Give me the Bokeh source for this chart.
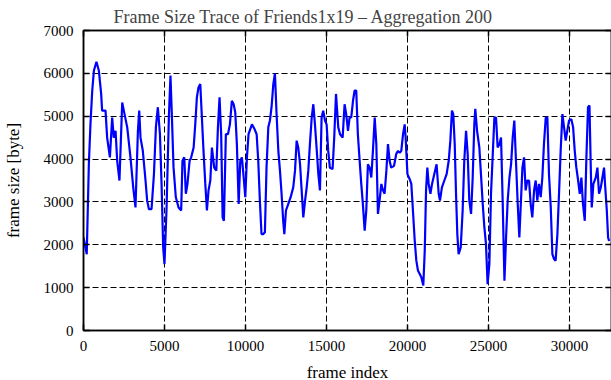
from bokeh.plotting import figure
from bokeh.models import Range1d, LinearAxis, FixedTicker, CustomJSTickFormatter
from bokeh.embed import file_html
from bokeh.resources import INLINE

frame_index = [0, 200, 330, 430, 540, 640, 800, 950, 1090, 1150, 1360, 1460, 1630, 1770, 1870, 1980,
               2080, 2220, 2390, 2490, 2700, 2900, 3070, 3210, 3360, 3440, 3520, 3660, 3830, 3930,
               4040, 4200, 4350, 4470, 4590, 4720, 4820, 4920, 5000, 5130, 5270, 5370,
               5460, 5560, 5700, 5870, 6030, 6110, 6220, 6320, 6420, 6550, 6650, 6800, 6900, 7000,
               7100, 7210, 7310, 7410, 7520, 7620, 7720, 7830, 7930, 8070, 8200, 8300, 8400, 8500,
               8590, 8670, 8790, 8920, 9040, 9160, 9270, 9370, 9470, 9580, 9680, 9780, 9890, 9990,
               10090, 10190, 10400, 10560,
               10690, 10790, 10890, 10990, 11100, 11200, 11300, 11410, 11510, 11610, 11720, 11820,
               11920, 12030, 12130, 12230, 12330, 12400, 12500, 12640, 12790, 12950, 13060, 13160,
               13260, 13370, 13470, 13570, 13680, 13780, 13880, 13980, 14090, 14190, 14290, 14390,
               14500, 14600, 14700, 14800, 14910, 15010, 15110, 15210, 15380, 15480, 15590, 15730,
               15840, 16000,
               16120, 16220, 16330, 16430, 16530, 16640, 16740, 16840, 16940, 17050, 17150, 17250,
               17360, 17460, 17560, 17670, 17770, 17870, 17980, 18080, 18180, 18280, 18390, 18490,
               18590, 18700, 18800, 18900, 19000, 19170, 19310, 19420, 19520, 19620, 19730, 19830,
               19890, 20000, 20140, 20240, 20340, 20450, 20550, 20650, 20760, 20860, 20980, 21070,
               21150, 21230, 21310, 21420, 21520,
               21660, 21800, 21930, 22010, 22130, 22280, 22420, 22550, 22650, 22750, 22830, 22920,
               23000, 23080, 23160, 23290, 23410, 23510, 23620, 23720, 23820, 23930, 24030, 24130,
               24190, 24300, 24440, 24540, 24650, 24750, 24850, 24950, 25060, 25160, 25260, 25370,
               25470, 25570, 25680, 25780, 25880, 25990, 26090, 26190, 26300, 26400, 26500, 26600,
               26710, 26810, 26910,
               27100, 27200, 27300, 27400, 27510, 27610, 27710, 27820, 27920, 28020, 28120, 28230,
               28330, 28430, 28540, 28640, 28740, 28850, 28950, 29050, 29150, 29260, 29360, 29460,
               29570, 29670, 29770, 29870, 29980, 30120, 30230, 30330, 30430, 30540, 30640, 30740,
               30840, 30950, 31050, 31150, 31240, 31320, 31380, 31480, 31630, 31730, 31830, 31940,
               32040, 32140, 32200, 32310, 32390, 32450]

frame_size = [2170, 1780, 3880, 4820, 5600, 6060, 6270, 6060, 5520, 5130, 5130, 4500, 4040, 4970, 4500, 4660,
              3960, 3500, 5320, 5130, 4740, 4040, 3340, 2870, 4660, 5130, 4500, 4200, 3500, 3030,
              2830, 2830, 3650, 4740, 5210, 4580, 3420, 1940, 1550, 2870, 4970, 5950,
              4970, 3800, 3110, 2870, 2800, 3960, 4040, 3190, 3420, 3960, 4040, 4270, 4810, 5440,
              5670, 5750, 4970, 4190, 3420, 2800, 3270, 3500, 4270, 3800, 3730, 4740, 5440, 4580,
              2640, 2560, 4580, 4580, 4810, 5360, 5280, 5090, 4350, 2950, 3960, 4040, 3570, 3110,
              4040, 4580, 4810, 4700,
              4580, 3960, 3030, 2250, 2250, 2290, 3800, 4740, 4900, 5210, 5750, 6000,
              5050, 4190, 3730, 3190, 2560, 2250, 2800, 2950, 3110, 3340, 3730, 4430,
              4270, 3880, 3270, 2640, 3030, 3340, 3730, 4350, 4970, 5280, 4810, 4270,
              3650, 3270, 4970, 5130, 4900, 4810, 4190, 3800, 3770, 4500, 5520, 4740,
              4580, 4500,
              5280, 5050, 4660, 4970, 4970, 5360, 5600, 5600, 4580, 3960, 3420, 2950,
              2330, 2800, 3880, 3800, 3570, 4190, 4970, 4350, 2720, 3030, 3420, 3270,
              3190, 3730, 4350, 3960, 3800, 3840, 4120, 4190, 4150, 4190, 4580, 4810,
              4500, 3650, 3530, 3420, 2800, 2100, 1630, 1400, 1320, 1240, 1050, 1870,
              3270, 3800, 3420, 3190, 3420,
              3650, 3880, 3190, 3030, 3340, 3500, 3650, 3960, 4430, 5130, 5050, 4350,
              3190, 2250, 1780, 1940, 2800, 3960, 4660, 4120, 3030, 2720, 3570, 4810,
              5170, 4660, 4270, 3650, 2950, 2410, 2020, 1080, 1550, 3190, 4040, 4970,
              4970, 4270, 4350, 4500, 3030, 1160, 2170, 3030, 3570, 3880, 4500, 4900,
              3880, 2950, 2170,
              3800, 4040, 3270, 3500, 3500, 2950, 2640, 3270, 3500, 3030, 3420, 3110,
              3570, 4350, 4970, 4970, 3650, 2870, 1780, 1670, 1630, 2250, 3190, 4190,
              5050, 4740, 4430, 4660, 4900, 4930, 4740, 4190, 3800, 3500, 3190, 3570,
              2950, 2560, 4040, 5210, 5250, 3800, 2870, 3420, 3570, 3800, 3190, 3340,
              3570, 3800, 3420, 2800, 2170, 2090]

x_ticks = [0, 5000, 10000, 15000, 20000, 25000, 30000]
y_ticks = [0, 1000, 2000, 3000, 4000, 5000, 6000, 7000]

FONT = "Liberation Serif"

p = figure(frame_width=528, frame_height=300, output_backend="svg", toolbar_location=None,
           x_range=Range1d(0, 32600), y_range=Range1d(0, 7000),
           min_border_left=81, min_border_right=2, min_border_top=30, min_border_bottom=50,
           title="Frame Size Trace of Friends1x19 \u2013 Aggregation 200")

p.title.text_font = FONT
p.title.text_font_size = "18px"
p.title.text_font_style = "normal"
p.title.align = "left"
p.title.vertical_align = "top"
p.title.offset = 30
p.title.standoff = 4

p.line(frame_index, frame_size, line_color="#0000ff", line_width=2.2)

p.outline_line_color = "black"
p.outline_line_width = 1.5
p.outline_line_alpha = 1

for g, ticks in ((p.xgrid, x_ticks), (p.ygrid, y_ticks)):
    g.ticker = FixedTicker(ticks=ticks)
    g.grid_line_color = "black"
    g.grid_line_dash = "6 3"
    g.grid_line_width = 1

def style_axis(ax, ticks, label=None):
    ax.ticker = FixedTicker(ticks=ticks)
    ax.axis_line_color = "black"
    ax.axis_line_width = 1.5
    ax.major_tick_in = 6
    ax.major_tick_out = 0
    ax.major_tick_line_color = "black"
    ax.major_tick_line_width = 1.5
    ax.minor_tick_line_color = None
    ax.major_label_text_font = FONT
    ax.major_label_text_font_size = "15px"
    ax.major_label_text_color = "black"
    if label:
        ax.axis_label = label
        ax.axis_label_text_font = FONT
        ax.axis_label_text_font_size = "17px"
        ax.axis_label_text_font_style = "normal"
        ax.axis_label_text_color = "black"

style_axis(p.xaxis[0], x_ticks, "frame index")
p.xaxis[0].major_label_standoff = 10
p.xaxis[0].axis_label_standoff = 9
style_axis(p.yaxis[0], y_ticks, "frame size [byte]")
p.yaxis[0].major_label_standoff = 10
p.yaxis[0].axis_label_standoff = 18

rax = LinearAxis()
style_axis(rax, y_ticks)
rax.formatter = CustomJSTickFormatter(code="return ''")
rax.major_label_standoff = 0
tax = LinearAxis()
style_axis(tax, x_ticks)
tax.formatter = CustomJSTickFormatter(code="return ''")
tax.major_label_standoff = 0
p.add_layout(rax, "right")
p.add_layout(tax, "above")

open("out.html", "w").write(file_html(p, INLINE))
